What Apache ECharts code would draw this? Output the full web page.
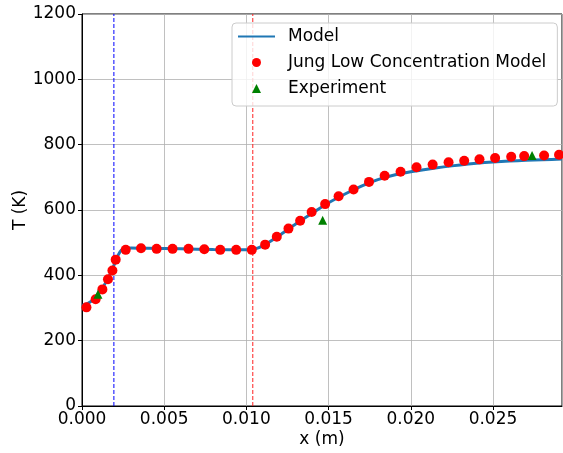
<!DOCTYPE html>
<html>
<head>
<meta charset="utf-8">
<script src="https://cdn.jsdelivr.net/npm/echarts@6/dist/echarts.min.js"></script>
<style>
  html, body { margin: 0; padding: 0; background: #fff; }
  #main { width: 563px; height: 453px; }
</style>
</head>
<body>
<div id="main"></div>
<script>
// model curve
const modelX = [0, 0.0003, 0.0006, 0.0009, 0.0012, 0.0015, 0.0018, 0.0020, 0.0022, 0.0024, 0.0026, 0.0030, 0.0040, 0.0060, 0.0080, 0.0100, 0.0104, 0.0110, 0.0120, 0.0130, 0.0140, 0.0150, 0.0160, 0.0170, 0.0180, 0.0190, 0.0200, 0.0210, 0.0220, 0.0230, 0.0240, 0.0250, 0.0260, 0.0270, 0.0280, 0.0292]
const modelT = [308, 313, 322, 338, 358, 383, 413, 438, 462, 477, 482, 484, 483, 481, 479, 478, 479, 490, 522, 557, 590, 622, 649, 673, 693, 707, 717, 725, 732, 738, 743, 747, 750, 752, 754, 756]

// Jung low concentration model points
const jungX = [0.00027, 0.00083, 0.00124, 0.00158, 0.00185, 0.00205, 0.00266, 0.00359, 0.00454, 0.00551, 0.00648, 0.00744, 0.00841, 0.00938, 0.01033, 0.01114, 0.01185, 0.01256, 0.01327, 0.01397, 0.01479, 0.01561, 0.01652, 0.01746, 0.01841, 0.01938, 0.02035, 0.02133, 0.0223, 0.02325, 0.02418, 0.02513, 0.02611, 0.0269, 0.02811, 0.02902]
const jungT = [302, 327, 357, 388, 415, 448, 478, 483, 481, 481, 481, 480, 478, 478, 478, 494, 518, 543, 567, 594, 618, 642, 663, 686, 705, 717, 731, 739, 746, 751, 755, 759, 763, 765, 767, 769]

// experiment
const expX = [0.00097, 0.01464, 0.02738]
const expT = [342, 569, 767]

// vertical markers
const blueLineX = 0.00194
const redLineX = 0.01039
const yRange = [0, 1200]

const zip = (a, b) => a.map((v, i) => [v, b[i]])

const font = 'DejaVu Sans'
const chart = echarts.init(document.getElementById('main'))
chart.setOption({
  animation: false,
  backgroundColor: '#fff',
  grid: {
    left: 82, top: 14, right: 1, bottom: 47,
    containLabel: false,
    outerBoundsMode: 'none',
    show: true, borderColor: '#000', borderWidth: 1
  },
  legend: {
    orient: 'vertical',
    left: 232,
    top: 23,
    padding: [5, 11, 9, 5],
    itemWidth: 37,
    itemHeight: 9,
    itemGap: 9,
    backgroundColor: 'rgba(255,255,255,0.8)',
    borderColor: '#ccc',
    borderWidth: 1,
    borderRadius: 4,
    textStyle: { fontFamily: font, fontSize: 17, color: '#000', padding: [0, 0, 0, 8] },
    data: [
      { name: 'Model', itemStyle: { color: 'rgba(0,0,0,0)', borderWidth: 0 } },
      { name: 'Jung Low Concentration Model', icon: 'circle' },
      { name: 'Experiment', icon: 'path://M4,0 L8,8 L0,8 Z' }
    ]
  },
  xAxis: {
    type: 'value',
    min: 0,
    max: 0.0292,
    interval: 0.005,
    name: 'x (m)',
    nameLocation: 'middle',
    nameGap: 25,
    nameMoveOverlap: false,
    nameTextStyle: { fontFamily: font, fontSize: 17, color: '#000' },
    axisLine: { lineStyle: { color: '#000' } },
    axisTick: { length: 4, lineStyle: { color: '#000' } },
    axisLabel: {
      fontFamily: font, fontSize: 17, color: '#000', margin: 5,
      showMaxLabel: false,
      formatter: v => v.toFixed(3)
    },
    splitLine: { show: true, lineStyle: { color: '#b0b0b0', width: 0.8 } }
  },
  yAxis: {
    type: 'value',
    min: 0,
    max: 1200,
    interval: 200,
    name: 'T (K)',
    nameLocation: 'middle',
    nameGap: 53,
    nameMoveOverlap: false,
    nameTextStyle: { fontFamily: font, fontSize: 17, color: '#000' },
    axisLine: { show: true, lineStyle: { color: '#000' } },
    axisTick: { show: true, length: 4, lineStyle: { color: '#000' } },
    axisLabel: { fontFamily: font, fontSize: 17, color: '#000', margin: 6, formatter: v => String(v) },
    splitLine: { show: true, lineStyle: { color: '#b0b0b0', width: 0.8 } }
  },
  series: [
    {
      // blue dashed marker
      type: 'line',
      data: yRange.map(v => [blueLineX, v]),
      symbol: 'none',
      silent: true,
      lineStyle: { color: '#0000ff', type: [4, 2], width: 1 },
      z: 1
    },
    {
      // red dashed marker
      type: 'line',
      data: yRange.map(v => [redLineX, v]),
      symbol: 'none',
      silent: true,
      lineStyle: { color: '#ff2020', type: [4, 2], width: 1 },
      z: 1
    },
    {
      name: 'Model',
      type: 'line',
      data: zip(modelX, modelT),
      symbol: 'none',
      smooth: 0.2,
      lineStyle: { color: '#1f77b4', width: 3 },
      itemStyle: { color: '#1f77b4' },
      z: 2
    },
    {
      name: 'Jung Low Concentration Model',
      type: 'scatter',
      data: zip(jungX, jungT),
      symbol: 'circle',
      symbolSize: 10,
      itemStyle: { color: '#ff0000', opacity: 1 },
      z: 3
    },
    {
      name: 'Experiment',
      type: 'scatter',
      data: zip(expX, expT),
      symbol: 'triangle',
      symbolSize: 9,
      itemStyle: { color: '#008000', opacity: 1 },
      z: 4
    }
  ]
})
</script>
</body>
</html>
